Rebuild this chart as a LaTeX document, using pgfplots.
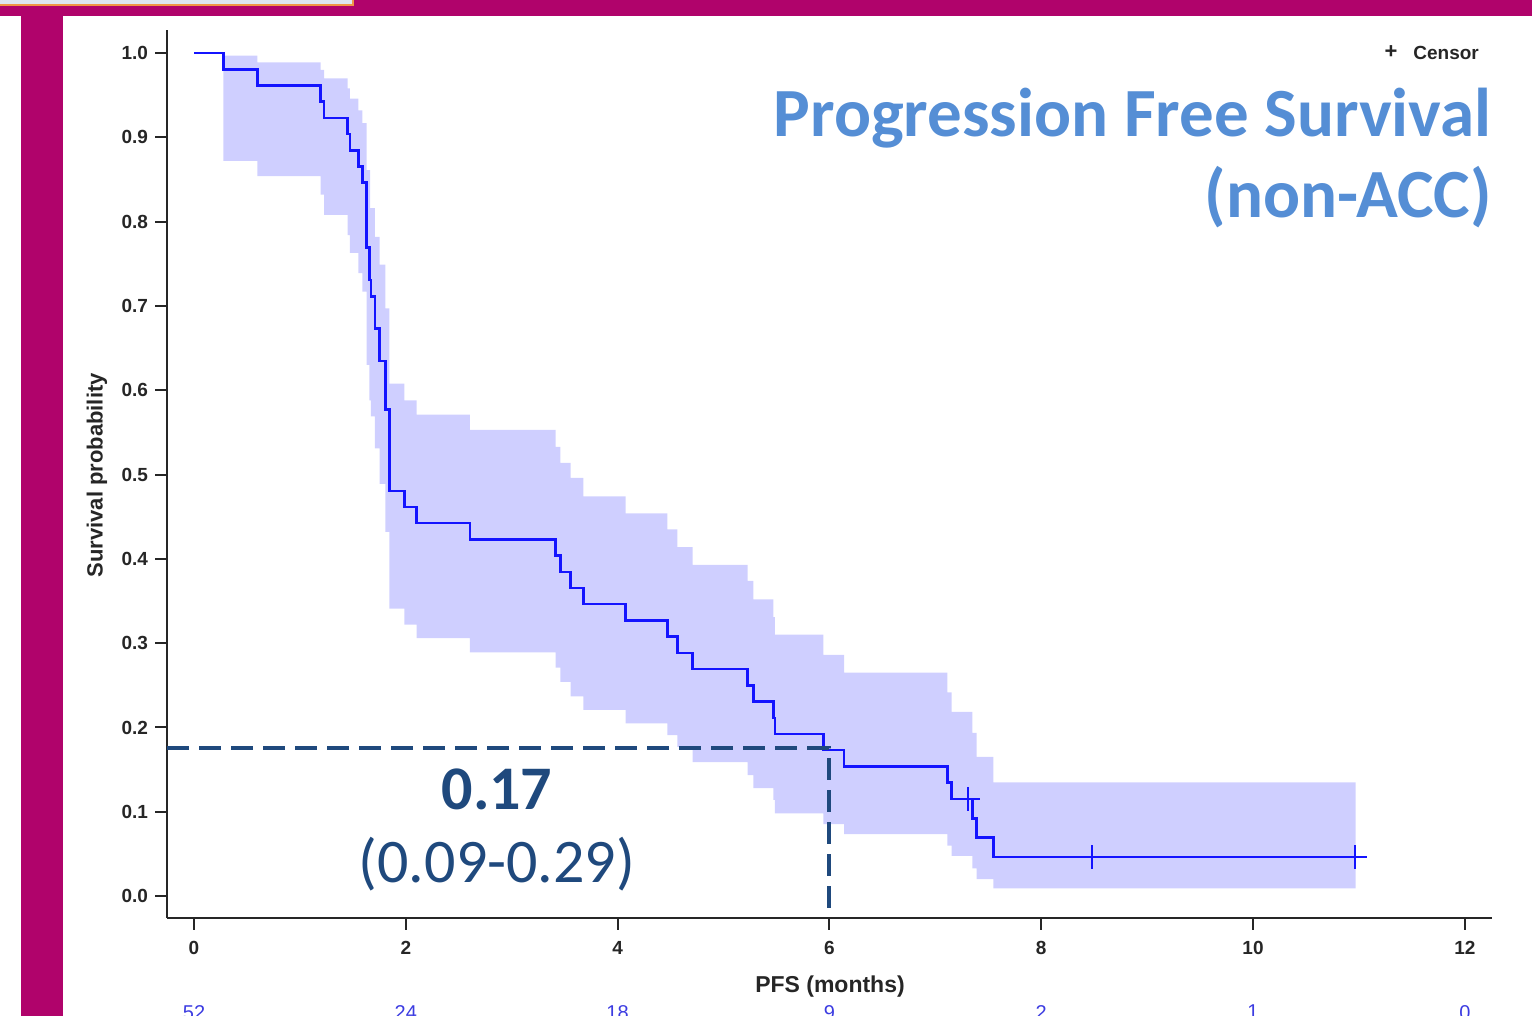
\documentclass[border=0pt]{standalone}
\usepackage{pgfplots}
\pgfplotsset{compat=1.18}
\usepgfplotslibrary{fillbetween}
\usepackage{fontspec}
\setmainfont{Liberation Sans}
\newfontfamily\calibri{Carlito}
\definecolor{magbar}{RGB}{176,3,107}
\definecolor{band}{RGB}{207,207,255}
\definecolor{kmblue}{RGB}{20,20,255}
\definecolor{navy}{RGB}{31,73,125}
\definecolor{titleblue}{RGB}{85,142,213}
\definecolor{riskblue}{RGB}{60,60,225}
\definecolor{boxfill}{RGB}{221,230,242}
\definecolor{boxline}{RGB}{240,150,70}

\pgfplotstableread{
t s
0 1
0.277 0.9808
0.598 0.9615
1.196 0.9423
1.228 0.9231
1.451 0.9038
1.473 0.8846
1.551 0.8654
1.589 0.8462
1.631 0.7692
1.655 0.7308
1.671 0.7115
1.709 0.6731
1.752 0.6346
1.806 0.5769
1.844 0.4808
1.986 0.4615
2.103 0.4423
2.606 0.4231
3.415 0.4038
3.459 0.3846
3.557 0.3654
3.676 0.3462
4.076 0.3269
4.469 0.3077
4.564 0.2885
4.709 0.2692
5.228 0.2500
5.281 0.2308
5.470 0.2115
5.486 0.1923
5.942 0.1731
6.138 0.1538
7.113 0.1346
7.155 0.1154
7.349 0.0923
7.391 0.0692
7.548 0.0462
10.963 0.0462
}\kmtable

\pgfplotstableread{
t u
0.277 0.997
0.598 0.989
1.196 0.980
1.228 0.970
1.451 0.958
1.473 0.946
1.551 0.932
1.589 0.917
1.631 0.861
1.663 0.816
1.709 0.782
1.752 0.749
1.806 0.697
1.844 0.608
1.986 0.588
2.103 0.571
2.606 0.553
3.415 0.533
3.459 0.514
3.557 0.496
3.676 0.474
4.076 0.454
4.469 0.435
4.564 0.414
4.709 0.393
5.228 0.374
5.281 0.352
5.470 0.331
5.486 0.310
5.942 0.286
6.138 0.265
7.113 0.2416
7.155 0.2186
7.349 0.1937
7.391 0.165
7.548 0.1349
10.97 0.1349
}\uppertable

\pgfplotstableread{
t l
0.277 0.872
0.598 0.854
1.196 0.832
1.228 0.808
1.451 0.784
1.473 0.763
1.551 0.739
1.589 0.717
1.631 0.630
1.655 0.588
1.671 0.569
1.709 0.531
1.752 0.489
1.806 0.432
1.844 0.341
1.986 0.322
2.103 0.306
2.606 0.289
3.415 0.271
3.459 0.254
3.557 0.237
3.676 0.221
4.076 0.205
4.469 0.191
4.564 0.177
4.709 0.159
5.228 0.1435
5.281 0.128
5.470 0.114
5.486 0.098
5.942 0.0854
6.138 0.0735
7.113 0.0597
7.155 0.0478
7.349 0.0329
7.391 0.0202
7.548 0.0091
10.97 0.0091
}\lowertable

\begin{document}
\begin{tikzpicture}
% frame (does not overlap the axis)
\fill[magbar] (0pt,500.15pt) rectangle (766pt,508pt);
\fill[magbar] (10.5pt,0pt) rectangle (31.35pt,500.15pt);
\fill[boxfill] (0pt,505.4pt) rectangle (176.3pt,508pt);
\draw[boxline, line width=0.9pt] (0pt,505.4pt) -- (176.3pt,505.4pt) -- (176.3pt,508pt);

\begin{axis}[
  at={(83.5pt,49pt)}, anchor=south west,
  x=52.95pt, y=421.5pt,
  xmin=-0.255, xmax=12.257, ymin=-0.026, ymax=1.027,
  axis x line*=bottom, axis y line*=left,
  axis line style={line width=1pt, black!85},
  every tick/.style={line width=1pt, black!85},
  tick align=outside, major tick length=6pt,
  xtick={0,2,4,6,8,10,12},
  ytick={0,0.1,0.2,0.3,0.4,0.5,0.6,0.7,0.8,0.9,1.0},
  yticklabel style={/pgf/number format/.cd, fixed, fixed zerofill, precision=1},
  /pgf/number format/assume math mode=true,
  ticklabel style={font=\fontsize{9.5}{11}\selectfont\bfseries, text=black!85},
  xticklabel style={yshift=-2pt},
  clip=false,
]
\addplot[name path=U, draw=none, const plot, forget plot] table[x=t, y=u] {\uppertable};
\addplot[name path=L, draw=none, const plot, forget plot] table[x=t, y=l] {\lowertable};
\addplot[band, draw=none] fill between[of=U and L];
\addplot[kmblue, line width=1.25pt, const plot, mark=none] table[x=t, y=s] {\kmtable};
\addplot[kmblue, only marks, mark=+, mark size=6pt, mark options={line width=1pt}]
  coordinates {(7.31,0.1154) (8.482,0.0462) (10.963,0.0462)};
\addplot[navy, line width=2pt, dash pattern=on 11pt off 5pt] coordinates {(-0.255,0.1756) (5.996,0.1756) (5.996,-0.026)};
\node[navy, font=\fontsize{31}{35}\selectfont\calibri\bfseries] at (axis cs:2.861,0.127) {0.17};
\node[navy, font=\fontsize{31}{35}\selectfont\calibri] at (axis cs:2.861,0.038) {(0.09-0.29)};
% numbers at risk (cut by the bottom edge, as in the reference)
\node[riskblue, anchor=north, font=\fontsize{10}{12}\selectfont, inner sep=0pt] at (axis cs:0,-0.129) {52};
\node[riskblue, anchor=north, font=\fontsize{10}{12}\selectfont, inner sep=0pt] at (axis cs:2,-0.129) {24};
\node[riskblue, anchor=north, font=\fontsize{10}{12}\selectfont, inner sep=0pt] at (axis cs:4,-0.129) {18};
\node[riskblue, anchor=north, font=\fontsize{10}{12}\selectfont, inner sep=0pt] at (axis cs:6,-0.129) {9};
\node[riskblue, anchor=north, font=\fontsize{10}{12}\selectfont, inner sep=0pt] at (axis cs:8,-0.129) {2};
\node[riskblue, anchor=north, font=\fontsize{10}{12}\selectfont, inner sep=0pt] at (axis cs:10,-0.129) {1};
\node[riskblue, anchor=north, font=\fontsize{10}{12}\selectfont, inner sep=0pt] at (axis cs:12,-0.129) {0};
\end{axis}

% axis labels
\node[font=\fontsize{11.5}{13}\selectfont\bfseries, text=black!85] at (415pt,14.5pt) {PFS (months)};
\node[font=\fontsize{11}{13}\selectfont\bfseries, text=black!85, rotate=90] at (48.5pt,270.3pt) {Survival probability};
% legend
\node[font=\fontsize{11}{13}\selectfont\bfseries, text=black!85] at (695.5pt,482pt) {+};
\node[anchor=west, font=\fontsize{9.5}{11}\selectfont\bfseries, text=black!85, inner sep=0pt] at (706.5pt,481.5pt) {Censor};
% title
\node[anchor=base east, inner sep=0pt, titleblue, font=\fontsize{34.5}{40}\selectfont\calibri\bfseries] at (746pt,439.5pt) {Progression Free Survival};
\node[anchor=base east, inner sep=0pt, titleblue, font=\fontsize{34.5}{40}\selectfont\calibri\bfseries] at (746pt,399pt) {(non-ACC)};
\pgfresetboundingbox
\useasboundingbox (0pt,0pt) rectangle (766pt,508pt);
\end{tikzpicture}
\end{document}
